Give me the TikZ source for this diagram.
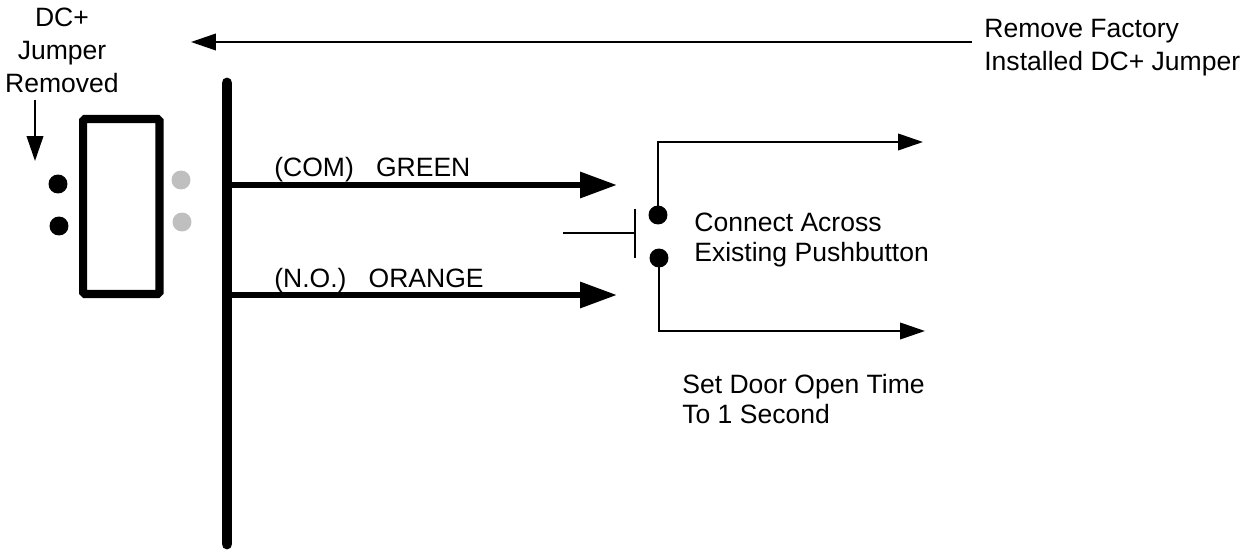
\documentclass[tikz,border=0pt]{standalone}
\usepackage{fontspec}
\setmainfont{Liberation Sans}
\usetikzlibrary{arrows.meta}
\tikzset{
    thinwire/.style={line width=1.2pt, -{Triangle[length=14.2pt, width=9.4pt]}},
    heavywire/.style={line width=3.5pt, -{Triangle[length=21pt, width=14.2pt]}},
    blackdot/.style={circle, fill=black, inner sep=0pt, minimum size=10.8pt},
    greydot/.style={circle, fill=black!25, inner sep=0pt, minimum size=10.8pt},
    label/.style={inner sep=0pt, align=left, font=\fontsize{15.1}{16.6}\selectfont},
    midlabel/.style={inner sep=0pt, align=left, font=\fontsize{15.1}{17.6}\selectfont},
    widelabel/.style={inner sep=0pt, align=left, font=\fontsize{15.1}{18.7}\selectfont}
}
\begin{document}
\begin{tikzpicture}[x=0.02cm, y=-0.02cm]

    \useasboundingbox (0,0) rectangle (1241,550);

    % Jumper block with its terminals
    \draw[line width=4.6pt, rounded corners=1pt] (83.2,119) rectangle (159.5,294);
    \node[blackdot] (dotA) at (58,184) {};
    \node[blackdot] (dotB) at (59,226) {};
    \node[greydot] (dotC) at (181,180) {};
    \node[greydot] (dotD) at (182,222) {};

    % Main bus and the two wires leaving it
    \coordinate (busTop) at (227,83);
    \coordinate (busBottom) at (227,544);
    \coordinate (comStart) at (227,185);
    \coordinate (comEnd) at (617,185);
    \coordinate (noStart) at (227,295);
    \coordinate (noEnd) at (617,295);
    \draw[line width=6.2pt, line cap=round] (busTop) -- (busBottom);
    \draw[heavywire] (comStart) -- (comEnd);
    \draw[heavywire] (noStart) -- (noEnd);
    \node[label, anchor=base west] (comLabel) at (274,177) {(COM)\ \ \ GREEN};
    \node[label, anchor=base west] (noLabel) at (274,288) {(N.O.)\ \ \ ORANGE};

    % Pushbutton
    \node[blackdot] (pushTop) at (658,215) {};
    \node[blackdot] (pushBottom) at (659,258) {};
    \coordinate (topCorner) at (pushTop |- 0,142);
    \coordinate (topEnd) at (923,142);
    \coordinate (bottomCorner) at (pushBottom |- 0,331);
    \coordinate (bottomEnd) at (925,331);
    \draw[thinwire] (pushTop.center) -- (topCorner) -- (topEnd);
    \draw[thinwire] (pushBottom.center) -- (bottomCorner) -- (bottomEnd);
    \coordinate (plungerStart) at (563,233);
    \coordinate (plungerEnd) at (635,233);
    \coordinate (barTop) at (635,209);
    \coordinate (barBottom) at (635,258);
    \draw[line width=1.1pt] (plungerStart) -- (plungerEnd);
    \draw[line width=1.1pt] (barTop) -- (barBottom);

    % Notes
    \node[midlabel, anchor=west] (acrossNote) at (694,240) {Connect Across\\Existing Pushbutton};
    \node[label, anchor=west] (timeNote) at (682,399) {Set Door Open Time\\To 1 Second};
    \node[widelabel, anchor=west] (factoryNote) at (984,48) {Remove Factory\\Installed DC+ Jumper};
    \node[widelabel, align=center, anchor=north] (jumperNote) at (62,8) {DC+\\Jumper\\Removed};

    % Pointers from the notes
    \coordinate (factoryStart) at (972,42);
    \coordinate (factoryEnd) at (191,42);
    \coordinate (jumperStart) at (35,100);
    \coordinate (jumperEnd) at (35,161);
    \draw[thinwire] (factoryStart) -- (factoryEnd);
    \draw[thinwire] (jumperStart) -- (jumperEnd);

\end{tikzpicture}
\end{document}
